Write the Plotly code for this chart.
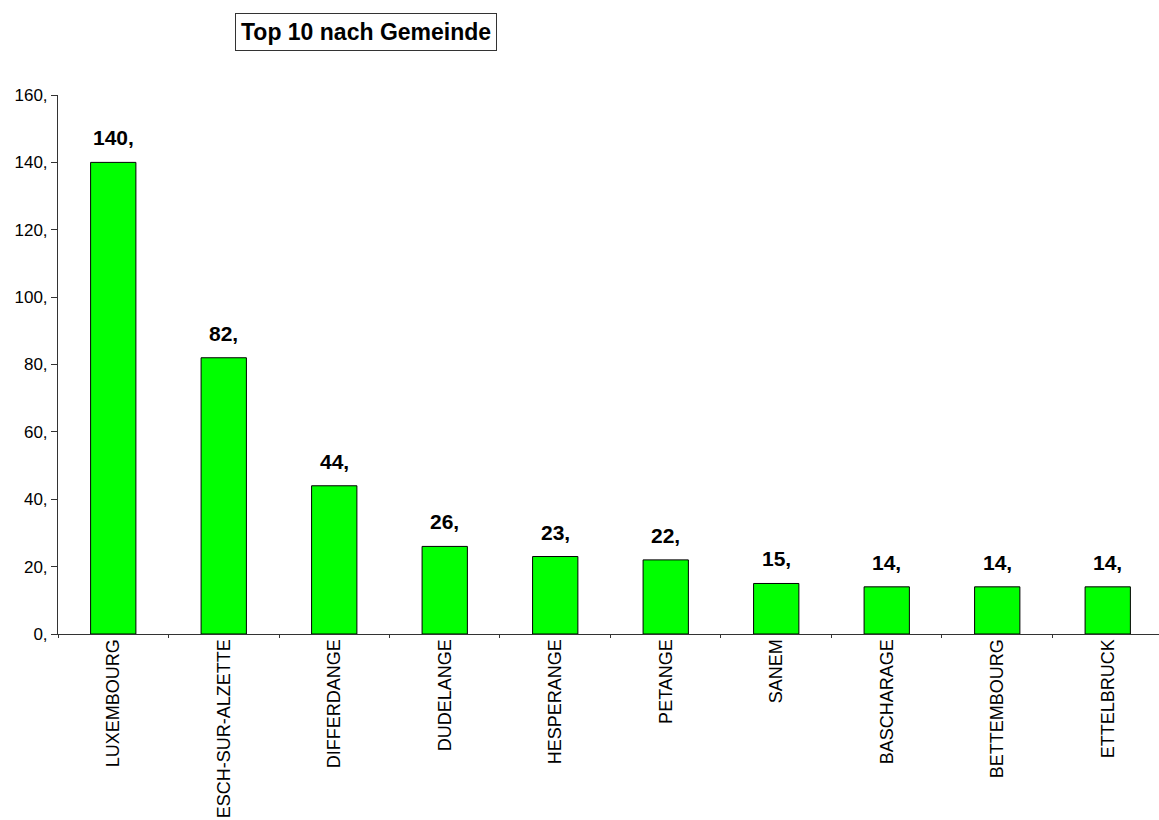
import plotly.graph_objects as go

# Communes and counts
gemeinden = ["LUXEMBOURG", "ESCH-SUR-ALZETTE", "DIFFERDANGE", "DUDELANGE", "HESPERANGE",
             "PETANGE", "SANEM", "BASCHARAGE", "BETTEMBOURG", "ETTELBRUCK"]
anzahl = [140, 82, 44, 26, 23, 22, 15, 14, 14, 14]

y_ticks = [0, 20, 40, 60, 80, 100, 120, 140, 160]
y_ticktext = [f"{v}," for v in y_ticks]

FONT = "Liberation Sans, Arial, sans-serif"

fig = go.Figure(
    go.Bar(
        x=gemeinden,
        y=anzahl,
        width=0.41,
        marker=dict(color="#00FF00", line=dict(color="#000000", width=1)),
        hoverinfo="skip",
    )
)

# Value labels above each bar
for g, v in zip(gemeinden, anzahl):
    fig.add_annotation(
        x=g, y=v, text=f"<b>{v},</b>", showarrow=False,
        yanchor="bottom", yshift=11,
        font=dict(family=FONT, size=21, color="#000000"),
    )

# Boxed title
fig.add_annotation(
    xref="paper", yref="paper", x=(366 - 58) / 1101, y=(634 - 32) / 539,
    xanchor="center", yanchor="middle", showarrow=False,
    text="<b>Top 10 nach Gemeinde</b>",
    font=dict(family=FONT, size=23, color="#000000"),
    bordercolor="#333333", borderwidth=1, borderpad=5, bgcolor="#FFFFFF",
)

fig.update_layout(
    width=1159, height=820,
    margin=dict(l=58, r=0, t=95, b=186, pad=0),
    paper_bgcolor="#FFFFFF", plot_bgcolor="#FFFFFF",
    showlegend=False,
    font=dict(family=FONT, color="#000000"),
    xaxis=dict(
        range=[-0.5, 9.464], showgrid=False, zeroline=False,
        showline=True, linecolor="#333333", linewidth=1,
        ticks="outside", tickson="boundaries", ticklen=3, tickcolor="#333333",
        ticklabelstandoff=-3,
        tickangle=-90, tickfont=dict(family=FONT, size=18, color="#000000"),
    ),
    yaxis=dict(
        range=[0, 160], showgrid=False, zeroline=False,
        showline=True, linecolor="#333333", linewidth=1,
        ticks="outside", ticklen=6, tickcolor="#333333",
        tickvals=y_ticks, ticktext=y_ticktext,
        tickfont=dict(family=FONT, size=17, color="#000000"),
    ),
)

fig.write_html("out.html")
